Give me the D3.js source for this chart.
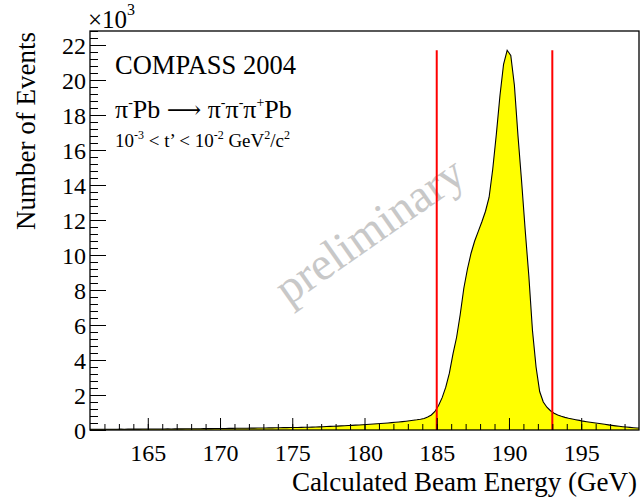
<!DOCTYPE html>
<html>
<head>
<meta charset="utf-8">
<script src="https://cdn.jsdelivr.net/npm/d3@7"></script>
<style>
  body { margin: 0; background: #fff; }
  svg { display: block; }
  text { font-family: "Liberation Serif", "Times New Roman", serif; fill: #000; }
</style>
</head>
<body>
<svg id="chart" width="640" height="499"></svg>
<script>
// Beam energy histogram: bins of 0.25 GeV starting at 161 GeV (entries per bin)
const binLow = 161;
const binWidth = 0.25;
const counts = [
  // 161 - 165
  40, 42, 41, 44, 43, 45, 46, 45, 48, 47, 50, 49, 52, 51, 54, 53,
  // 165 - 170
  55, 56, 58, 57, 60, 62, 61, 64, 66, 65, 68, 70, 71, 73, 75, 76, 78, 80, 83, 85,
  // 170 - 175
  87, 89, 92, 94, 96, 99, 101, 104, 106, 109, 112, 115, 118, 121, 124, 127, 130, 133, 137, 140,
  // 175 - 180
  140, 144, 149, 154, 160, 166, 172, 180, 188, 196, 205, 214, 224, 234, 244, 255, 266, 277, 289, 301,
  // 180 - 185
  313, 326, 340, 354, 370, 386, 403, 421, 440, 460, 481, 503, 527, 553, 582, 616, 660, 740, 860, 1060,
  // 185 - 190
  1400, 1850, 2450, 3250, 4350, 5300, 6600, 8100, 9200, 10100, 10800, 11350, 11900, 12500, 13300, 14900, 16900, 19100, 20900, 21700,
  // 190 - 195
  21400, 19700, 16800, 14200, 11400, 8800, 5700, 3600, 2200, 1600, 1300, 1100, 960, 860, 780, 720, 670, 630, 590, 550,
  // 195 - 199
  505, 475, 445, 415, 385, 355, 325, 295, 265, 238, 212, 190, 170, 150, 132, 115
];

// Beam energy cut window (GeV)
const cutEdges = [185, 193];

// Axis ranges and ticks
const xDomain = [161, 199];
const yDomain = [0, 22800];
const xMajorTicks = [165, 170, 175, 180, 185, 190, 195];
const xMinorTicks = d3.range(162, 199, 1);
const yMajorTicks = d3.range(0, 22001, 2000);
const yMinorTicks = d3.range(0, 22801, 400);

const xTitle = "Calculated Beam Energy (GeV)";
const yTitle = "Number of Events";
const expLabel = ["×10", "3"];
const headline = "COMPASS 2004";
const watermark = "preliminary";

const frame = { left: 90, right: 639, top: 31, bottom: 430 };

const svg = d3.select("#chart");

const x = d3.scaleLinear().domain(xDomain).range([frame.left, frame.right]);
const y = d3.scaleLinear().domain(yDomain).range([frame.bottom, frame.top]);

svg.append("defs").append("clipPath").attr("id", "plot-clip")
  .append("rect")
  .attr("x", frame.left).attr("y", frame.top)
  .attr("width", frame.right - frame.left).attr("height", frame.bottom - frame.top);

// histogram points at bin centres, closed at the axis edges
const pts = counts.map((c, i) => [binLow + (i + 0.5) * binWidth, c]);
pts.unshift([xDomain[0], counts[0]]);
pts.push([xDomain[1], counts[counts.length - 1]]);

const plot = svg.append("g").attr("clip-path", "url(#plot-clip)");

plot.append("path")
  .datum(pts)
  .attr("fill", "#ffff00")
  .attr("d", d3.area().x(d => x(d[0])).y0(y(0)).y1(d => y(d[1])));

plot.append("path")
  .datum(pts)
  .attr("fill", "none")
  .attr("stroke", "#000")
  .attr("stroke-width", 1.1)
  .attr("d", d3.line().x(d => x(d[0])).y(d => y(d[1])));

// watermark
svg.append("text")
  .attr("transform", `translate(369,230) rotate(-35)`)
  .attr("text-anchor", "middle")
  .attr("dominant-baseline", "central")
  .style("font-size", "47px")
  .style("fill", "#c8c8c8")
  .text(watermark);

// cut lines, drawn up to the histogram maximum
const yMax = d3.max(counts);
svg.selectAll("line.cut")
  .data(cutEdges)
  .join("line")
  .attr("class", "cut")
  .attr("x1", d => x(d)).attr("x2", d => x(d))
  .attr("y1", y(0)).attr("y2", y(yMax))
  .attr("stroke", "#ff0000")
  .attr("stroke-width", 2);

// axes with inward ticks
const axX = svg.append("g").attr("transform", `translate(0,${frame.bottom})`);
axX.call(d3.axisBottom(x).tickValues(xMinorTicks).tickSize(-6).tickFormat(""))
  .call(g => g.select(".domain").remove());
const axXMaj = svg.append("g").attr("transform", `translate(0,${frame.bottom})`);
axXMaj.call(d3.axisBottom(x).tickValues(xMajorTicks).tickSize(-12).tickPadding(0).tickFormat(d3.format("d")))
  .call(g => g.select(".domain").remove());
axXMaj.selectAll("text")
  .attr("y", 31).attr("dy", 0)
  .style("font-size", "24px")
  .style("font-family", '"Liberation Serif", serif');

const axY = svg.append("g").attr("transform", `translate(${frame.left},0)`);
axY.call(d3.axisLeft(y).tickValues(yMinorTicks).tickSize(-8).tickFormat(""))
  .call(g => g.select(".domain").remove());
const axYMaj = svg.append("g").attr("transform", `translate(${frame.left},0)`);
axYMaj.call(d3.axisLeft(y).tickValues(yMajorTicks).tickSize(-16).tickPadding(0).tickFormat(d => d / 1000))
  .call(g => g.select(".domain").remove());
axYMaj.selectAll("text")
  .attr("x", -4).attr("dy", "0.34em")
  .style("font-size", "24px")
  .style("font-family", '"Liberation Serif", serif');

svg.selectAll(".tick line").attr("stroke", "#000").attr("stroke-width", 1);

// frame
svg.append("rect")
  .attr("x", frame.left).attr("y", frame.top)
  .attr("width", frame.right - frame.left).attr("height", frame.bottom - frame.top)
  .attr("fill", "none").attr("stroke", "#000").attr("stroke-width", 1.3);

// axis titles
svg.append("text")
  .attr("x", 637).attr("y", 491)
  .attr("text-anchor", "end")
  .style("font-size", "27px")
  .text(xTitle);

svg.append("text")
  .attr("transform", "translate(35,32) rotate(-90)")
  .attr("text-anchor", "end")
  .style("font-size", "27px")
  .text(yTitle);

// exponent label
const exp = svg.append("text").attr("x", 88).attr("y", 28).style("font-size", "25px");
exp.append("tspan").text(expLabel[0]);
exp.append("tspan").attr("dy", -13).style("font-size", "16px").text(expLabel[1]);

// rich text with superscripts; parts may carry their own font family
function richText(xp, yp, size, parts, supScale) {
  const t = svg.append("text").attr("x", xp).attr("y", yp).style("font-size", size + "px");
  let shift = 0;
  const supSize = Math.round(size * supScale);
  const rise = Math.round(size * 0.42);
  parts.forEach(p => {
    const target = p.sup ? -rise : 0;
    const ts = t.append("tspan")
      .attr("dy", target - shift)
      .style("font-size", (p.sup ? supSize : (p.size || size)) + "px")
      .text(p.t);
    if (p.family) ts.style("font-family", p.family);
    if (p.dx) ts.attr("dx", p.dx);
    shift = target;
  });
  return t;
}

svg.append("text")
  .attr("x", 115).attr("y", 74)
  .style("font-size", "26.5px")
  .text(headline);

richText(115, 118, 26, [
  { t: "π" }, { t: "-", sup: true }, { t: "Pb " },
  { t: "⟶", family: '"DejaVu Serif", "DejaVu Sans", serif', size: 24 },
  { t: " π" }, { t: "-", sup: true },
  { t: "π" }, { t: "-", sup: true }, { t: "π" }, { t: "+", sup: true }, { t: "Pb" }
], 0.55);

richText(115, 147, 19, [
  { t: "10" }, { t: "-3", sup: true }, { t: " < t’ < 10" }, { t: "-2", sup: true },
  { t: " GeV" }, { t: "2", sup: true }, { t: "/c" }, { t: "2", sup: true }
], 0.62);
</script>
</body>
</html>
